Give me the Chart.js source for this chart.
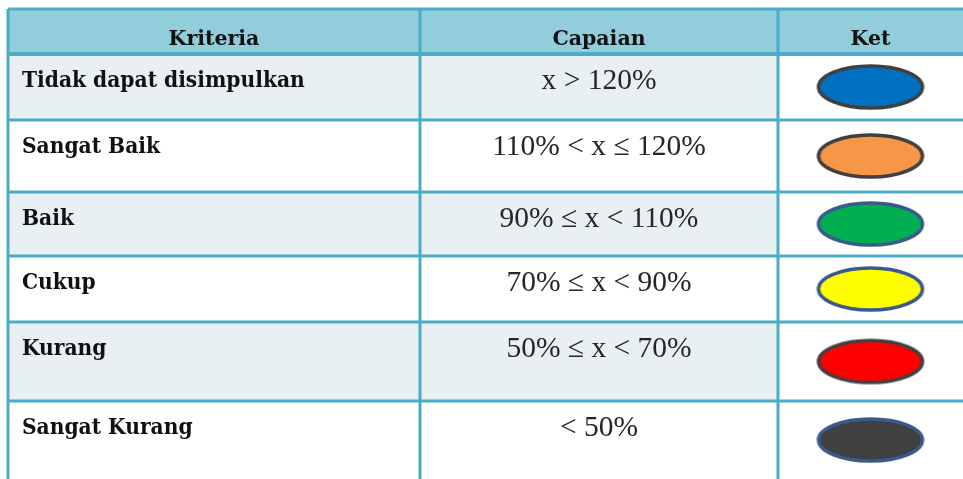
<!DOCTYPE html>
<html>
<head>
<meta charset="utf-8">
<script src="https://cdn.jsdelivr.net/npm/chart.js@4.4.1/dist/chart.umd.min.js"></script>
<style>
  html, body { margin: 0; padding: 0; background: #fff; }
  #wrap { width: 963px; height: 479px; position: relative; }
</style>
</head>
<body>
<div id="wrap"><canvas id="chart"></canvas></div>
<script>
/* ===== Data ===== */
const headers = ['Kriteria', 'Capaian', 'Ket'];
const kriteria = ['Tidak dapat disimpulkan', 'Sangat Baik', 'Baik', 'Cukup', 'Kurang', 'Sangat Kurang'];
const capaian = ['x > 120%', '110% < x ≤ 120%', '90% ≤ x < 110%', '70% ≤ x < 90%', '50% ≤ x < 70%', '< 50%'];
const ketFill = ['#0070C0', '#F79646', '#00B050', '#FFFF00', '#FF0000', '#404040'];
const ketBorder = ['#404040', '#404040', '#3A5A8C', '#3A5A8C', '#404040', '#3A5A8C'];

/* ===== Layout (units of the hidden scales) ===== */
const COL_EDGES = [8, 420, 778, 963];
const ROW_EDGES = [9, 54, 120, 192, 256, 322, 401, 479];
const GRID = '#4BACC6';
const HEAD_BG = '#92CDDC';
const STRIPE_BG = '#E9F0F4';
const BOLD_FONT = 'bold 22.5px "DejaVu Serif", serif';
const HEAD_FONT = 'bold 20.5px "DejaVu Serif", serif';
const VALUE_FONT = '29.5px "Liberation Serif", serif';

function ellipseSprite(fill, stroke) {
  const c = document.createElement('canvas');
  c.width = 114;
  c.height = 50;
  const g = c.getContext('2d');
  g.beginPath();
  g.ellipse(57, 25, 52, 21, 0, 0, Math.PI * 2);
  g.fillStyle = fill;
  g.fill();
  g.lineWidth = 3.5;
  g.strokeStyle = stroke;
  g.stroke();
  return c;
}

/* ===== Table grid + text ===== */
const tablePlugin = {
  id: 'tableGrid',
  beforeDatasetsDraw(chart) {
    const { ctx, scales: { x, y } } = chart;
    const X = v => x.getPixelForValue(v);
    const Y = v => y.getPixelForValue(v);
    const left = X(COL_EDGES[0]);
    const right = X(COL_EDGES[3]) + 10;
    ctx.save();

    // header
    ctx.fillStyle = HEAD_BG;
    ctx.fillRect(left, Y(ROW_EDGES[0]), right - left, Y(ROW_EDGES[1]) - Y(ROW_EDGES[0]));

    // striped rows (first two columns only)
    kriteria.forEach((k, i) => {
      if (i % 2 === 0) {
        ctx.fillStyle = STRIPE_BG;
        ctx.fillRect(left, Y(ROW_EDGES[i + 1]), X(COL_EDGES[2]) - left, Y(ROW_EDGES[i + 2]) - Y(ROW_EDGES[i + 1]));
      }
    });

    // lines
    ctx.strokeStyle = GRID;
    ROW_EDGES.slice(0, -1).forEach((r, i) => {
      ctx.lineWidth = i === 1 ? 4 : 3;
      ctx.beginPath();
      ctx.moveTo(left, Y(r));
      ctx.lineTo(right, Y(r));
      ctx.stroke();
    });
    ctx.lineWidth = 3;
    COL_EDGES.slice(0, -1).forEach(c => {
      ctx.beginPath();
      ctx.moveTo(X(c), Y(ROW_EDGES[0]));
      ctx.lineTo(X(c), Y(ROW_EDGES[ROW_EDGES.length - 1]) + 5);
      ctx.stroke();
    });

    // header text
    ctx.fontStretch = 'condensed';
    ctx.fillStyle = '#111';
    ctx.textAlign = 'center';
    ctx.textBaseline = 'alphabetic';
    ctx.font = HEAD_FONT;
    headers.forEach((h, j) => {
      ctx.fillText(h, X((COL_EDGES[j] + COL_EDGES[j + 1]) / 2), Y(ROW_EDGES[0]) + 36);
    });

    // body text
    kriteria.forEach((k, i) => {
      const top = Y(ROW_EDGES[i + 1]);
      ctx.font = BOLD_FONT;
      ctx.fontStretch = 'condensed';
      ctx.textAlign = 'left';
      ctx.fillStyle = '#111';
      ctx.fillText(k, left + 14, top + 33);
      ctx.font = VALUE_FONT;
      ctx.fontStretch = 'normal';
      ctx.textAlign = 'center';
      ctx.fillStyle = '#262626';
      ctx.fillText(capaian[i], X((COL_EDGES[1] + COL_EDGES[2]) / 2), top + 35);
    });
    ctx.restore();
  }
};

/* ===== Chart ===== */
const ketX = (COL_EDGES[2] + COL_EDGES[3]) / 2;
const ketPoints = kriteria.map((k, i) => ({ x: ketX, y: (ROW_EDGES[i + 1] + ROW_EDGES[i + 2]) / 2 }));

new Chart(document.getElementById('chart'), {
  type: 'scatter',
  data: {
    datasets: [{
      label: 'Ket',
      data: ketPoints,
      pointStyle: ketFill.map((f, i) => ellipseSprite(f, ketBorder[i])),
      clip: false
    }]
  },
  options: {
    responsive: true,
    maintainAspectRatio: false,
    animation: false,
    events: [],
    layout: { padding: 0, autoPadding: false },
    plugins: { legend: { display: false }, tooltip: { enabled: false } },
    scales: {
      x: { type: 'linear', min: 0, max: 963, display: false },
      y: { type: 'linear', min: 0, max: 479, reverse: true, display: false }
    }
  },
  plugins: [tablePlugin]
});
</script>
</body>
</html>
